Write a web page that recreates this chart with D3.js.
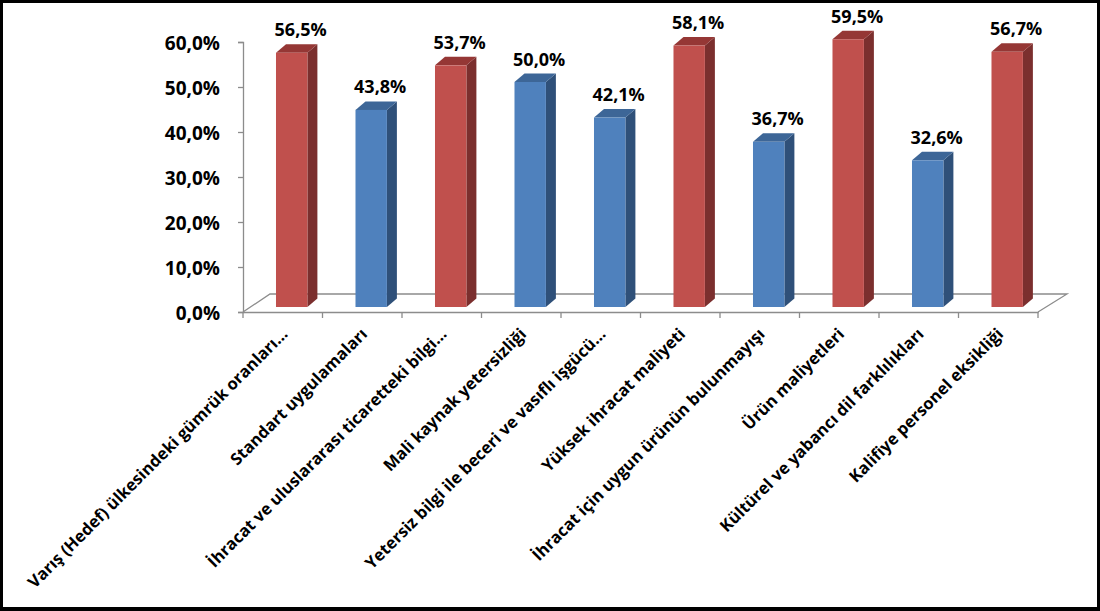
<!DOCTYPE html>
<html>
<head>
<meta charset="utf-8">
<script src="https://cdn.jsdelivr.net/npm/d3@7"></script>
<style>
  html, body { margin: 0; padding: 0; background: #fff; }
  svg { display: block; }
  text { font-family: "Open Sans", Lato, sans-serif; font-weight: bold; fill: #000; }
</style>
</head>
<body>
<svg id="chart" width="1100" height="611"></svg>
<script>
// ---- data ----
const categories = [
  "Varış (Hedef) ülkesindeki gümrük oranları…",
  "Standart uygulamaları",
  "İhracat ve uluslararası ticaretteki bilgi…",
  "Mali kaynak yetersizliği",
  "Yetersiz bilgi ile beceri ve vasıflı işgücü…",
  "Yüksek ihracat maliyeti",
  "İhracat için uygun ürünün bulunmayışı",
  "Ürün maliyetleri",
  "Kültürel ve yabancı dil farklılıkları",
  "Kalifiye personel eksikliği"
];
const values = [56.5, 43.8, 53.7, 50.0, 42.1, 58.1, 36.7, 59.5, 32.6, 56.7];
const yTicks = [0, 10, 20, 30, 40, 50, 60];

// ---- layout ----
const W = 1100, H = 611;
const plot = { left: 243, right: 1038, top: 42, bottom: 312 };
const floorDepth = { dx: 27, dy: -18 };
const barPlane = { dx: 0, dy: -5 };
const barDepth = { dx: 10, dy: -8.5 };

const palette = {
  red:  { front: "#C0504D", top: "#953735", side: "#7B2F2E" },
  blue: { front: "#4F81BD", top: "#3D6697", side: "#2F5079" }
};
const fmt = v => d3.format(".1f")(v).replace(".", ",") + "%";

const svg = d3.select("#chart");

// frame
svg.append("rect").attr("x", 0).attr("y", 0).attr("width", W).attr("height", H).attr("fill", "#000");
svg.append("rect").attr("x", 3).attr("y", 3).attr("width", W - 6).attr("height", H - 7).attr("fill", "#fff");

const x = d3.scaleBand().domain(categories).range([plot.left, plot.right]).paddingInner(0).paddingOuter(0);
const y = d3.scaleLinear().domain([0, 60]).range([plot.bottom, plot.top]);

// floor outline
const axisColor = "#8C8C8C";
const fl = [
  [plot.left, plot.bottom],
  [plot.left + floorDepth.dx, plot.bottom + floorDepth.dy],
  [plot.right + floorDepth.dx + 2, plot.bottom + floorDepth.dy],
  [plot.right, plot.bottom]
];
svg.append("path")
  .attr("d", d3.line()(fl))
  .attr("fill", "none").attr("stroke", axisColor).attr("stroke-width", 1.3);

// y axis
const yAxis = d3.axisLeft(y).tickValues(yTicks).tickSize(5).tickFormat(d => fmt(d));
const gy = svg.append("g").attr("transform", `translate(${plot.left},0)`).call(yAxis);
gy.select(".domain").attr("stroke", axisColor).attr("stroke-width", 1.3);
gy.selectAll(".tick line").attr("stroke", axisColor).attr("stroke-width", 1.3);
gy.selectAll(".tick text")
  .attr("x", -23).attr("dy", "0.42em")
  .style("font-size", "19px")
  .style("font-family", "'Open Sans', Lato, sans-serif")
  .style("font-weight", "bold")
  .attr("fill", "#000");

// x axis (front floor edge + ticks)
const xAxis = d3.axisBottom(x).tickSize(0).tickFormat("");
const gx = svg.append("g").attr("transform", `translate(0,${plot.bottom})`).call(xAxis);
gx.select(".domain").attr("stroke", axisColor).attr("stroke-width", 1.3);
const bounds = x.domain().map(d => x(d)).concat([plot.right]);
gx.selectAll(".xt").data(bounds).enter().append("line")
  .attr("x1", d => d).attr("x2", d => d).attr("y1", 0).attr("y2", 6)
  .attr("stroke", axisColor).attr("stroke-width", 1.3);

// bars
const bw = x.bandwidth();
const bars = svg.append("g").selectAll("g").data(values).enter().append("g");
bars.each(function(v, i) {
  const c = v > 50 ? palette.red : palette.blue;
  const g = d3.select(this);
  const x0 = x(categories[i]) + bw * 0.415 + barPlane.dx;
  const x1 = x0 + bw * 0.395;
  const yb = y(0) + barPlane.dy;
  const yt = y(v) + barPlane.dy;
  const dx = barDepth.dx, dy = barDepth.dy;
  g.append("path").attr("d", d3.line()([[x1, yt], [x1 + dx, yt + dy], [x1 + dx, yb + dy], [x1, yb]]) + "Z")
    .attr("fill", c.side);
  g.append("path").attr("d", d3.line()([[x0, yt], [x0 + dx, yt + dy], [x1 + dx, yt + dy], [x1, yt]]) + "Z")
    .attr("fill", c.top);
  g.append("rect").attr("x", x0).attr("y", yt).attr("width", x1 - x0).attr("height", yb - yt)
    .attr("fill", c.front);
  g.append("text")
    .attr("x", (x0 + x1 + dx) / 2 + 4)
    .attr("y", yt + dy - 8)
    .attr("text-anchor", "middle")
    .style("font-size", "18px")
    .text(fmt(v));
});

// category labels
svg.append("g").selectAll("text").data(categories).enter().append("text")
  .attr("transform", d => `translate(${x(d) + bw / 2 + 2},${plot.bottom + 19}) rotate(-45)`)
  .attr("text-anchor", "end")
  .attr("dy", "0.35em")
  .style("font-size", "16.5px")
  .text(d => d);
</script>
</body>
</html>
